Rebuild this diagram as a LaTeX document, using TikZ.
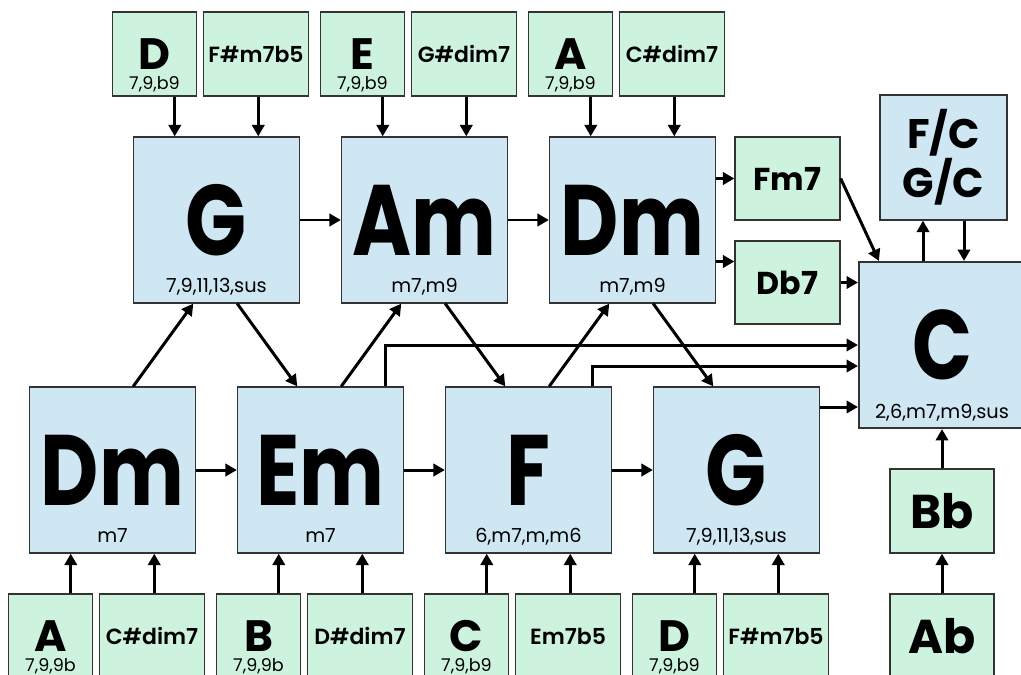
\documentclass[tikz,border=0pt]{standalone}
\usepackage{fontspec}
\setmainfont{Poppins}
\newfontfamily\semifont{Poppins SemiBold}
\newfontfamily\bigfont{Poppins Bold}[FakeStretch=0.8]
\usetikzlibrary{arrows.meta,calc}
\definecolor{chordblue}{HTML}{CFE6F3}
\definecolor{chordgreen}{HTML}{CDF2DE}
\tikzstyle{chord} = [draw=black!80, line width=0.75pt, fill=chordblue, minimum size=3.32cm, inner sep=0pt, font=\fontsize{57}{60}\selectfont\bigfont]
\tikzstyle{sub} = [font=\fontsize{11}{12}\selectfont, anchor=base, yshift=0.22cm]
\tikzstyle{subn} = [font=\fontsize{10}{12}\selectfont, anchor=base, yshift=0.14cm]
\tikzstyle{note} = [draw=black!80, line width=0.75pt, fill=chordgreen, minimum width=1.68cm, minimum height=1.68cm, inner sep=0pt, font=\fontsize{25}{26}\selectfont\bfseries]
\tikzstyle{dimbox} = [note, minimum width=2.1cm, font=\fontsize{12.5}{14}\selectfont\semifont]
\tikzstyle{side} = [note, minimum width=2.1cm, minimum height=1.66cm, font=\fontsize{18}{20}\selectfont\bfseries]
\tikzstyle{bass} = [note, minimum width=2.08cm, font=\fontsize{27}{28}\selectfont\bfseries]
\tikzstyle{link} = [draw, line width=1.7pt, -{Triangle[length=6.5pt,width=7pt]}]

\begin{document}
\begin{tikzpicture}[node distance=4.16cm, every edge/.style={link}]
    \useasboundingbox (0,0) rectangle (20.42,-13.48);
    \clip (0,0) rectangle (20.42,-13.48);
    \node[chord, label={[sub]south:7,9,11,13,sus}] (g1) at (4.33,-4.4) {G};
    \node[chord, right of=g1, label={[sub]south:m7,m9}] (am) {Am};
    \node[chord, right of=am, label={[sub]south:m7,m9}] (dm1) {Dm};
    \node[chord, label={[sub]south:m7}] (dm2) at (2.25,-9.4) {Dm};
    \node[chord, right of=dm2, label={[sub]south:m7}] (em) {Em};
    \node[chord, right of=em, label={[sub]south:6,m7,m,m6}] (f) {F};
    \node[chord, right of=f, label={[sub]south:7,9,11,13,sus}] (g2) {G};
    \node[chord, line width=1.2pt, font=\fontsize{56}{58}\selectfont\bigfont, label={[sub]south:2,6,m7,m9,sus}] (c) at (18.84,-6.9) {C};

    \node[note, above of=g1, node distance=3.32cm, xshift=-1.24cm, label={[subn]south:7,9,b9}] (d1) {D};
    \node[dimbox, above of=g1, node distance=3.32cm, xshift=0.79cm] (fsharp1) {F\#m7b5};
    \node[note, above of=am, node distance=3.32cm, xshift=-1.24cm, label={[subn]south:7,9,b9}] (e1) {E};
    \node[dimbox, above of=am, node distance=3.32cm, xshift=0.79cm] (gsharp1) {G\#dim7};
    \node[note, above of=dm1, node distance=3.32cm, xshift=-1.24cm, label={[subn]south:7,9,b9}] (a1) {A};
    \node[dimbox, above of=dm1, node distance=3.32cm, xshift=0.79cm] (csharp1) {C\#dim7};

    \node[note, below of=dm2, node distance=3.32cm, xshift=-1.24cm, label={[subn]south:7,9,9b}] (a2) {A};
    \node[dimbox, below of=dm2, node distance=3.32cm, xshift=0.79cm] (csharp2) {C\#dim7};
    \node[note, below of=em, node distance=3.32cm, xshift=-1.24cm, label={[subn]south:7,9,9b}] (b2) {B};
    \node[dimbox, below of=em, node distance=3.32cm, xshift=0.79cm] (dsharp2) {D\#dim7};
    \node[note, below of=f, node distance=3.32cm, xshift=-1.24cm, label={[subn]south:7,9,b9}] (c2) {C};
    \node[dimbox, below of=f, node distance=3.32cm, xshift=0.79cm] (e7b5) {Em7b5};
    \node[note, below of=g2, node distance=3.32cm, xshift=-1.24cm, label={[subn]south:7,9,b9}] (d2) {D};
    \node[dimbox, below of=g2, node distance=3.32cm, xshift=0.79cm] (fsharp2) {F\#m7b5};

    \node[side] (fm7) at (15.75,-3.57) {Fm7};
    \node[side] (db7) at (15.75,-5.65) {Db7};
    \node[chord, minimum size=0pt, minimum width=2.54cm, minimum height=2.5cm, align=center, font=\fontsize{23.5}{26}\selectfont\bfseries] (fc) at (18.87,-3.15) {F/C\\G/C};
    \node[bass] (bb) at (18.84,-10.22) {Bb};
    \node[bass] (ab) at (18.84,-12.72) {Ab};

    \path
      ([xshift=-0.835cm]g1.north |- d1.south) edge ([xshift=-0.835cm]g1.north)
      ([xshift=0.835cm]g1.north |- fsharp1.south) edge ([xshift=0.835cm]g1.north)
      ([xshift=-0.835cm]am.north |- e1.south) edge ([xshift=-0.835cm]am.north)
      ([xshift=0.835cm]am.north |- gsharp1.south) edge ([xshift=0.835cm]am.north)
      ([xshift=-0.835cm]dm1.north |- a1.south) edge ([xshift=-0.835cm]dm1.north)
      ([xshift=0.835cm]dm1.north |- csharp1.south) edge ([xshift=0.835cm]dm1.north)
      ([xshift=-0.835cm]dm2.south |- a2.north) edge ([xshift=-0.835cm]dm2.south)
      ([xshift=0.835cm]dm2.south |- csharp2.north) edge ([xshift=0.835cm]dm2.south)
      ([xshift=-0.835cm]em.south |- b2.north) edge ([xshift=-0.835cm]em.south)
      ([xshift=0.835cm]em.south |- dsharp2.north) edge ([xshift=0.835cm]em.south)
      ([xshift=-0.835cm]f.south |- c2.north) edge ([xshift=-0.835cm]f.south)
      ([xshift=0.835cm]f.south |- e7b5.north) edge ([xshift=0.835cm]f.south)
      ([xshift=-0.835cm]g2.south |- d2.north) edge ([xshift=-0.835cm]g2.south)
      ([xshift=0.835cm]g2.south |- fsharp2.north) edge ([xshift=0.835cm]g2.south)
      (g1) edge (am)
      (am) edge (dm1)
      (dm2) edge (em)
      (em) edge (f)
      (f) edge (g2)
      ([xshift=0.415cm]dm2.north) edge ([xshift=-0.465cm]g1.south)
      ([xshift=0.415cm]g1.south) edge ([xshift=-0.465cm]em.north)
      ([xshift=0.415cm]em.north) edge ([xshift=-0.465cm]am.south)
      ([xshift=0.415cm]am.south) edge ([xshift=-0.465cm]f.north)
      ([xshift=0.415cm]f.north) edge ([xshift=-0.465cm]dm1.south)
      ([xshift=0.415cm]dm1.south) edge ([xshift=-0.465cm]g2.north)
      ([yshift=0.83cm]dm1.east) edge (fm7.west)
      ([yshift=-0.83cm]dm1.east) edge ([yshift=-0.83cm]dm1.east -| db7.west)
      (fm7.east) edge ([xshift=0.42cm]c.north west)
      (db7.east) edge (db7.east -| c.west)
      ([xshift=-0.41cm]fc.south |- c.north) edge ([xshift=-0.41cm]fc.south)
      ([xshift=0.41cm]fc.south) edge ([xshift=0.41cm]fc.south |- c.north)
      ([yshift=-1.24cm]c.west -| g2.east) edge ([yshift=-1.24cm]c.west)
      (bb) edge (c)
      (ab) edge (bb)
    ;
    \draw[link] ([xshift=1.29cm]em.north) |- (c.west);
    \draw[link] ([xshift=1.27cm]f.north) |- ([yshift=-0.42cm]c.west);
\end{tikzpicture}
\end{document}
